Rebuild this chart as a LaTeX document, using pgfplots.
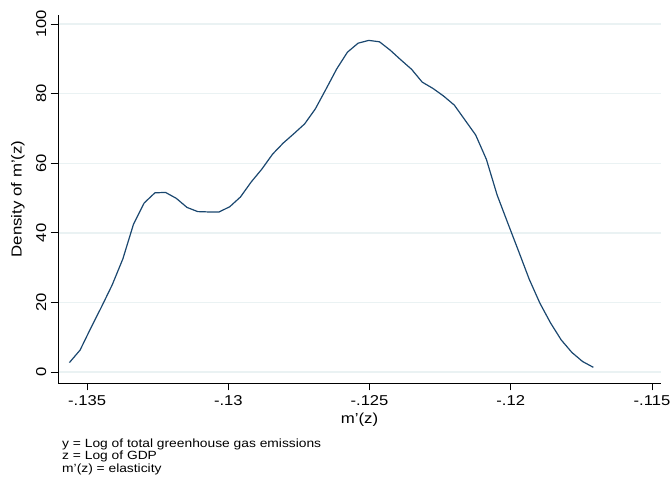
\documentclass[border=0pt]{standalone}
\usepackage{pgfplots}
\pgfplotsset{compat=1.18}
\usepackage{fontspec}
\setmainfont[FakeStretch=1.16]{Liberation Sans}
\definecolor{stnavy}{RGB}{26,71,111}
\definecolor{stgrid}{RGB}{234,242,243}
\begin{document}
\begin{tikzpicture}
\path[use as bounding box] (0,0) rectangle (671pt,476pt);
\begin{axis}[
  at={(58pt,93pt)}, anchor=south west,
  scale only axis, width=603pt, height=368pt,
  xmin=-0.13603, xmax=-0.11468, ymin=-3.16, ymax=102.6,
  axis x line*=bottom, axis y line*=left,
  axis line style={black, line width=0.9pt, -},
  xtick={-0.135,-0.13,-0.125,-0.12,-0.115},
  xticklabels={-.135,-.13,-.125,-.12,-.115},
  ytick={0,20,40,60,80,100},
  yticklabels={0,20,40,60,80,100},
  tick align=outside, major tick length=7.5pt,
  tick style={black, line width=0.8pt},
  minor tick num=0,
  ymajorgrids, grid style={stgrid, line width=1.4pt},
  tick label style={font=\fontsize{14.3}{16}\selectfont},
  xticklabel style={anchor=north, inner sep=0pt, yshift=-5pt},
  yticklabel style={rotate=90, anchor=south, inner sep=0pt, yshift=4pt},
  xlabel={m'(z)}, ylabel={Density of m'(z)},
  label style={font=\fontsize{14.5}{17}\selectfont},
  xlabel style={at={(axis description cs:0.5,0)}, anchor=north, inner sep=0pt, yshift=-30pt},
  ylabel style={at={(axis description cs:-0.0779,0.5)}, rotate=0, anchor=north, inner sep=0pt},
  scaled x ticks=false,
  clip=false,
]
\addplot[stnavy, line width=1.2pt, line join=round] coordinates {
(-0.135627,2.7) (-0.135248,6.3) (-0.134870,12.6) (-0.134491,18.7) (-0.134113,25.0)
(-0.133734,32.5) (-0.133356,42.5) (-0.132977,48.6) (-0.132598,51.5) (-0.132220,51.6)
(-0.131841,49.9) (-0.131463,47.3) (-0.131084,46.1) (-0.130705,46.0) (-0.130327,46.0)
(-0.129948,47.5) (-0.129570,50.3) (-0.129191,54.6) (-0.128813,58.3) (-0.128434,62.6)
(-0.128055,65.8) (-0.127677,68.5) (-0.127298,71.3) (-0.126920,75.6) (-0.126541,81.3)
(-0.126162,87.1) (-0.125784,91.9) (-0.125405,94.5) (-0.125027,95.3) (-0.124648,94.9)
(-0.124269,92.5) (-0.123891,89.7) (-0.123512,87.0) (-0.123134,83.3) (-0.122755,81.5)
(-0.122377,79.3) (-0.121998,76.7) (-0.121619,72.4) (-0.121241,68.1) (-0.120862,61.1)
(-0.120484,50.9) (-0.120105,42.8) (-0.119726,34.8) (-0.119348,26.7) (-0.118969,19.8)
(-0.118591,14.1) (-0.118212,9.2) (-0.117833,5.6) (-0.117455,3.0) (-0.117076,1.35)
};
\end{axis}
\begin{scope}[every node/.style={anchor=base west, inner sep=0pt, font=\fontsize{11.9}{12}\selectfont}]
\node at (62pt,29pt) {y = Log of total greenhouse gas emissions};
\node at (62pt,16.5pt) {z = Log of GDP};
\node at (62pt,4pt) {m'(z) = elasticity};
\end{scope}
\end{tikzpicture}
\end{document}
